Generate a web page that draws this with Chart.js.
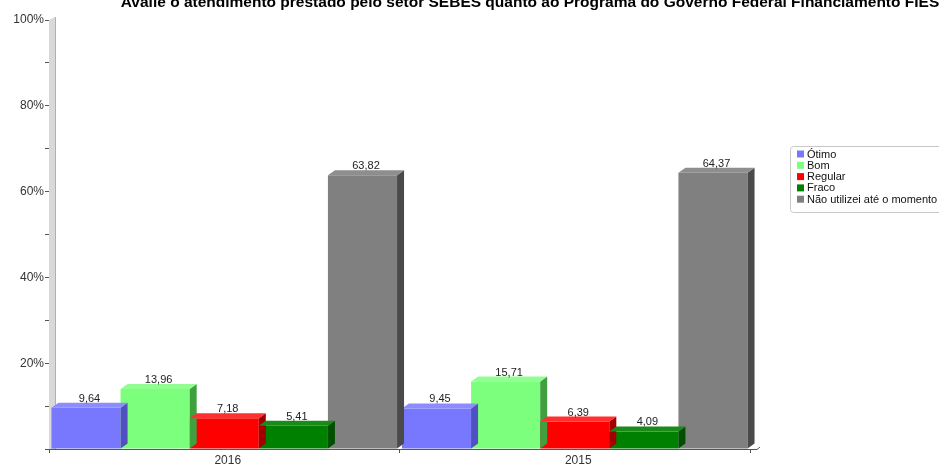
<!DOCTYPE html>
<html>
<head>
<meta charset="utf-8">
<script src="https://cdn.jsdelivr.net/npm/chart.js@4.4.1/dist/chart.umd.min.js"></script>
<style>
html,body{margin:0;padding:0;background:#fff;}
#wrap{position:relative;width:939px;height:465px;}
</style>
</head>
<body>
<div id="wrap"><canvas id="c" width="939" height="465"></canvas></div>
<script>
const titleText = "Avalie o atendimento prestado pelo setor SEBES quanto ao Programa do Governo Federal Financiamento FIES";
const categories = ["2016", "2015"];
const seriesNames = ["Ótimo", "Bom", "Regular", "Fraco", "Não utilizei até o momento"];
const otimo = [9.64, 9.45];
const bom = [13.96, 15.71];
const regular = [7.18, 6.39];
const fraco = [5.41, 4.09];
const naoUtilizei = [63.82, 64.37];
const yTickLabels = ["", "", "20%", "", "40%", "", "60%", "", "80%", "", "100%"];

const faceColors = ["#7878ff", "#7cff7c", "#ff0000", "#008000", "#808080"];
const sideColors = ["#5050c0", "#40a040", "#a00000", "#005000", "#4a4a4a"];
const topColors = ["#8c8cff", "#90ff90", "#ff3030", "#1a8a1a", "#8e8e8e"];
const DX = 7, DY = 5;

const seriesValues = [otimo, bom, regular, fraco, naoUtilizei];
const datasets = seriesNames.map((n, i) => ({
  label: n,
  data: seriesValues[i],
  backgroundColor: faceColors[i],
  borderWidth: 0
}));

const fmt = v => v.toFixed(2).replace('.', ',');

const plugin3d = {
  id: 'plugin3d',
  beforeDatasetsDraw(chart) {
    const ctx = chart.ctx, a = chart.chartArea;
    ctx.save();
    ctx.fillStyle = '#d9d9d9';
    ctx.beginPath();
    ctx.moveTo(a.left, a.top);
    ctx.lineTo(a.left + 6, a.top - 3);
    ctx.lineTo(a.left + 6, a.bottom);
    ctx.lineTo(a.left, a.bottom);
    ctx.closePath();
    ctx.fill();
    ctx.strokeStyle = '#b0b0b0';
    ctx.lineWidth = 1;
    ctx.beginPath();
    ctx.moveTo(a.left + 6.5, a.top - 3);
    ctx.lineTo(a.left + 6.5, a.bottom);
    ctx.stroke();
    ctx.restore();
  },
  afterDatasetsDraw(chart) {
    const ctx = chart.ctx, a = chart.chartArea;
    ctx.save();
    chart.data.datasets.forEach((ds, i) => {
      const meta = chart.getDatasetMeta(i);
      meta.data.forEach((bar, j) => {
        const w = bar.width;
        const x0 = bar.x - w / 2, x1 = bar.x + w / 2, yt = bar.y, yb = bar.base;
        ctx.fillStyle = sideColors[i];
        ctx.beginPath();
        ctx.moveTo(x1, yt);
        ctx.lineTo(x1 + DX, yt - DY);
        ctx.lineTo(x1 + DX, yb - DY);
        ctx.lineTo(x1, yb);
        ctx.closePath();
        ctx.fill();
        ctx.fillStyle = topColors[i];
        ctx.beginPath();
        ctx.moveTo(x0, yt);
        ctx.lineTo(x0 + DX, yt - DY);
        ctx.lineTo(x1 + DX, yt - DY);
        ctx.lineTo(x1, yt);
        ctx.closePath();
        ctx.fill();
        ctx.fillStyle = '#222';
        ctx.font = '11px "Liberation Sans", Arial, sans-serif';
        ctx.textAlign = 'center';
        ctx.textBaseline = 'alphabetic';
        ctx.fillText(fmt(ds.data[j]), bar.x + DX / 2, yt - DY - 1);
      });
    });
    ctx.strokeStyle = '#555';
    ctx.lineWidth = 1;
    ctx.beginPath();
    ctx.moveTo(a.left - 2, a.bottom + 0.5);
    ctx.lineTo(a.right + 7, a.bottom + 0.5);
    ctx.lineTo(a.right + 10, a.bottom - 2);
    ctx.stroke();
    ctx.restore();
  },
  afterDraw(chart) {
    const ctx = chart.ctx;
    ctx.save();
    ctx.fillStyle = '#000';
    ctx.font = 'bold 15.5px "Liberation Sans", Arial, sans-serif';
    ctx.textAlign = 'center';
    ctx.textBaseline = 'alphabetic';
    ctx.fillText(titleText, 530, 7);
    const lx = 790, ly = 146, lw = 160, lh = 66;
    ctx.strokeStyle = '#c8c8c8';
    ctx.lineWidth = 1;
    ctx.beginPath();
    if (ctx.roundRect) ctx.roundRect(lx + 0.5, ly + 0.5, lw, lh, 3); else ctx.rect(lx + 0.5, ly + 0.5, lw, lh);
    ctx.stroke();
    ctx.font = '11px "Liberation Sans", Arial, sans-serif';
    ctx.textAlign = 'left';
    ctx.textBaseline = 'middle';
    seriesNames.forEach((n, i) => {
      const y = ly + 8 + i * 11.3;
      ctx.fillStyle = faceColors[i];
      ctx.fillRect(lx + 7, y - 3.5, 7, 7);
      ctx.fillStyle = '#111';
      ctx.fillText(n, lx + 17, y + 0.5);
    });
    ctx.restore();
  }
};

new Chart(document.getElementById('c'), {
  type: 'bar',
  data: { labels: categories, datasets },
  options: {
    responsive: false,
    animation: false,
    layout: { padding: { top: 20, right: 189, left: 0, bottom: 0 } },
    plugins: { legend: { display: false }, tooltip: { enabled: false }, title: { display: false } },
    datasets: { bar: { categoryPercentage: 0.986, barPercentage: 1 } },
    scales: {
      x: {
        grid: { drawOnChartArea: false, tickLength: 4, color: '#555', offset: true },
        border: { display: false },
        ticks: { color: '#333', font: { size: 12, family: '"Liberation Sans", Arial, sans-serif' }, padding: 0, labelOffset: 3.5, maxRotation: 0 },
        afterFit(s) { s.height = 16; }
      },
      y: {
        min: 0, max: 100,
        grid: { drawOnChartArea: false, tickLength: 4, color: '#555' },
        border: { display: true, color: '#555' },
        ticks: {
          stepSize: 10,
          color: '#333',
          font: { size: 12, family: '"Liberation Sans", Arial, sans-serif' },
          padding: 1,
          callback: (v, i) => yTickLabels[i]
        },
        afterFit(s) { s.width = 49; }
      }
    }
  },
  plugins: [plugin3d]
});
</script>
</body>
</html>
